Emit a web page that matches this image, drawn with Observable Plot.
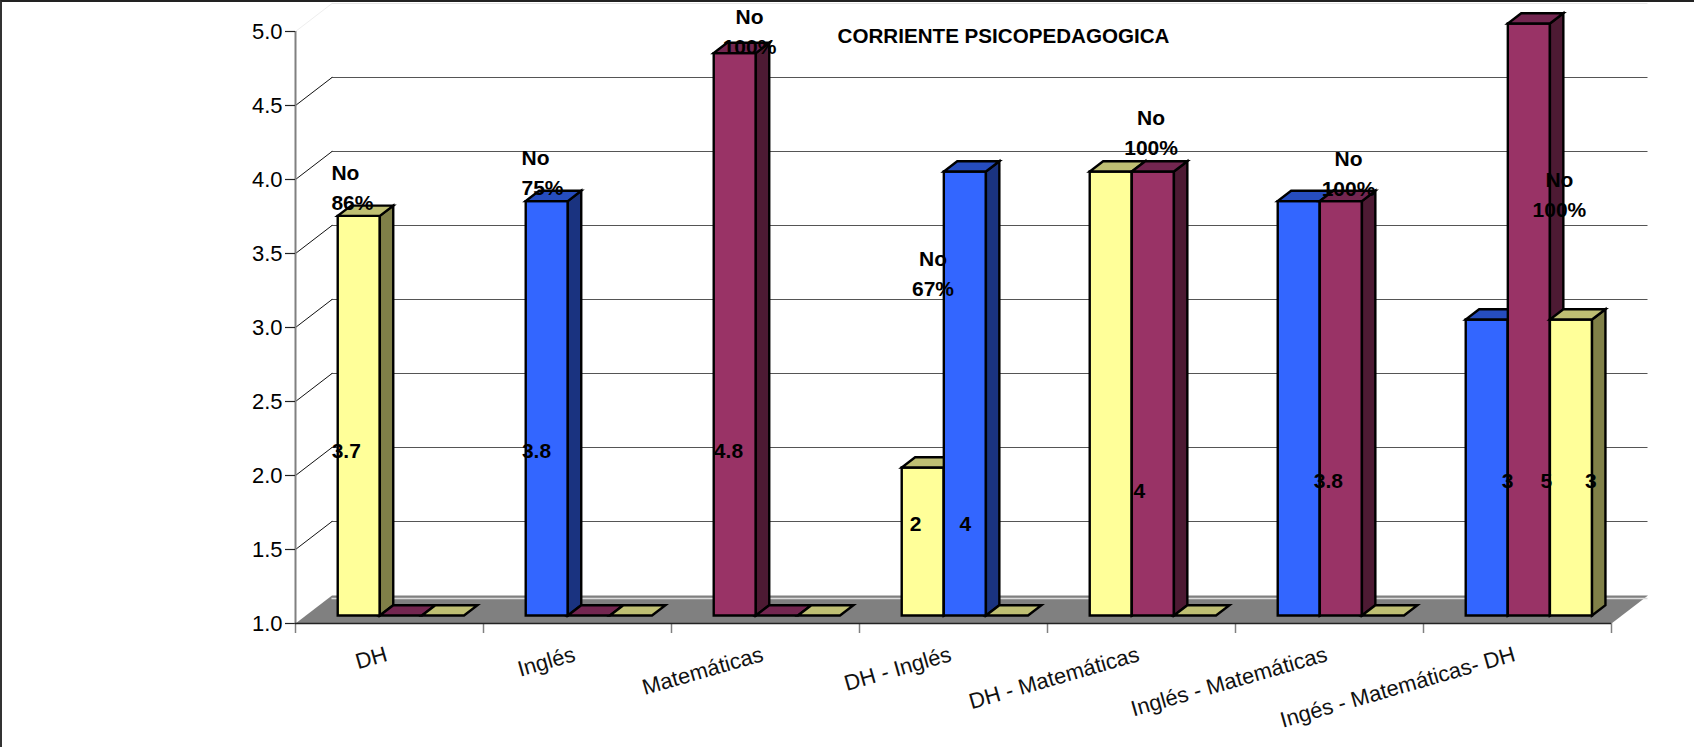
<!DOCTYPE html>
<html>
<head>
<meta charset="utf-8">
<script src="https://cdn.jsdelivr.net/npm/d3@7"></script>
<script src="https://cdn.jsdelivr.net/npm/@observablehq/plot@0.6"></script>
<style>
html,body{margin:0;padding:0;background:#fff;overflow:hidden}
#chart{position:relative;width:1694px;height:747px}
#edge{position:absolute;left:0;top:0;width:1694px;height:747px;box-sizing:border-box;border-top:2px solid #222;border-left:2px solid #333;pointer-events:none}
svg{display:block}
</style>
</head>
<body>
<div id="chart"><div id="edge"></div></div>
<script>
const categories = ["DH","Inglés","Matemáticas","DH - Inglés","DH - Matemáticas","Inglés - Matemáticas","Ingés - Matemáticas- DH"];
const slot1Values = [3.7,3.8,4.8,2,4,3.8,3];
const slot1Series = ["yellow","blue","purple","yellow","yellow","blue","blue"];
const slot2Values = [1,1,1,4,4,3.8,5];
const slot2Series = ["purple","purple","purple","blue","purple","purple","purple"];
const slot3Values = [1,1,1,1,1,1,3];
const slot3Series = ["yellow","yellow","yellow","yellow","yellow","yellow","yellow"];
const yTicks = [1,1.5,2,2.5,3,3.5,4,4.5,5];
const palette = {
  yellow:{front:"#FFFF99",side:"#808048",top:"#BFBF73"},
  blue:{front:"#3366FF",side:"#1A3380",top:"#264DBF"},
  purple:{front:"#993366",side:"#4D1A33",top:"#732650"}
};
// "No" labels: text, position in chart units (category, value)
const noLabels = [
  {t:"No\n86%",x:0.191,y:3.957,a:"start"},
  {t:"No\n75%",x:1.202,y:4.061,a:"start"},
  {t:"No\n100%",x:2.415,y:5.011,a:"middle"},
  {t:"No\n67%",x:3.391,y:3.376,a:"middle"},
  {t:"No\n100%",x:4.551,y:4.332,a:"middle"},
  {t:"No\n100%",x:5.601,y:4.058,a:"middle"},
  {t:"No\n100%",x:6.723,y:3.913,a:"middle"}
];
// Value labels
const valueLabels = [
  {t:"3.7",x:0.270,y:2.165},{t:"3.8",x:1.282,y:2.165},{t:"4.8",x:2.303,y:2.165},
  {t:"2",x:3.298,y:1.669},{t:"4",x:3.563,y:1.669},{t:"4",x:4.489,y:1.895},
  {t:"3.8",x:5.494,y:1.96},{t:"3",x:6.447,y:1.96},{t:"5",x:6.654,y:1.96},{t:"3",x:6.89,y:1.96}
];

const W=1694,H=747;
const mL=295,mR=83,mT=31,mB=124;
const uX=(W-mL-mR)/7, uY=(H-mT-mB)/4;
// oblique depth vector expressed in chart units (depth 1 = back wall)
const depthX=36.5/uX, depthY=28/uY;
const P=(x,y,d)=>({x:x+d*depthX,y:y+d*depthY});
const d0=8/28, d1=d0+10.3/28;
const slotW=42.1/uX, pad=(1-3*slotW)/2+0.005;

const polys=[];let pid=0;
function poly(pts,fill){const id=pid++;pts.forEach(p=>polys.push({x:p.x,y:p.y,id,fill}));}
function bar(g,s,v,col){
  const x0=g+pad+s*slotW,x1=x0+slotW,c=palette[col];
  if(v>1){
    poly([P(x0,1,d0),P(x1,1,d0),P(x1,v,d0),P(x0,v,d0)],c.front);
    poly([P(x1,1,d0),P(x1,1,d1),P(x1,v,d1),P(x1,v,d0)],c.side);
  }
  poly([P(x0,v,d0),P(x1,v,d0),P(x1,v,d1),P(x0,v,d1)],c.top);
}
categories.forEach((_,g)=>{
  bar(g,0,slot1Values[g],slot1Series[g]);
  bar(g,1,slot2Values[g],slot2Series[g]);
  bar(g,2,slot3Values[g],slot3Series[g]);
});
const floor=[P(0,1,0),P(7,1,0),P(7,1,1),P(0,1,1)];
const gridT=yTicks.slice(1);
const diag=gridT.flatMap(v=>[{...P(0,v,0),v},{...P(0,v,1),v}]);
const lblFont="Liberation Sans, Arial, sans-serif";
const plot=Plot.plot({
  width:W,height:H,marginLeft:mL,marginRight:mR,marginTop:mT,marginBottom:mB,
  x:{domain:[0,7]},y:{domain:[1,5]},color:{type:"identity"},
  style:{fontFamily:lblFont,background:"#fff",overflow:"visible",color:"#000"},
  marks:[
    Plot.ruleY(gridT.filter(v=>v<5),{x1:P(0,0,1).x,x2:P(7,0,1).x,y:v=>P(0,v,1).y,stroke:"#555",strokeWidth:1.2}),
    Plot.ruleY([5],{x1:P(0,0,1).x,x2:P(7,0,1).x,y:v=>P(0,v,1).y,stroke:"#e6e6e6",strokeWidth:1}),
    Plot.line(diag.filter(d=>d.v<5),{x:"x",y:"y",z:"v",stroke:"#111",strokeWidth:1}),
    Plot.line(diag.filter(d=>d.v==5),{x:"x",y:"y",z:"v",stroke:"#eee",strokeWidth:1}),
    Plot.line(floor,{x:"x",y:"y",fill:"#808080",stroke:"none",curve:"linear-closed"}),
    Plot.ruleY([1],{x1:P(0,0,1).x,x2:P(7,0,1).x,y:v=>P(0,v,1).y-0.02,stroke:"#dcdcdc",strokeWidth:1.5}),
    Plot.ruleX([0],{y1:1,y2:5,stroke:"#808080",strokeWidth:2}),
    Plot.axisY({ticks:yTicks,tickFormat:d3.format(".1f"),tickSize:10,tickPadding:3,fontSize:22,label:null,stroke:"#222",strokeWidth:1.2,marker:null}),
    Plot.axisX({ticks:d3.range(0,8),tickFormat:()=>"",tickSize:10,label:null,stroke:"#808080",strokeWidth:1.5}),
    Plot.ruleY([1],{x1:0,x2:7,stroke:"#222",strokeWidth:1.5}),
    Plot.line(polys,{x:"x",y:"y",z:"id",fill:"fill",stroke:"#000",strokeWidth:2.4,curve:"linear-closed",strokeLinejoin:"miter",strokeMiterlimit:10}),
    Plot.text(categories,{x:(d,i)=>i+0.485,y:0.795,text:d=>d,textAnchor:"end",rotate:-16,fontSize:22,fill:"#111"}),
    Plot.text(noLabels.filter(d=>d.a=="start"),{x:"x",y:"y",text:"t",textAnchor:"start",fontSize:21,fontWeight:"bold",lineHeight:1.43,fill:"#000"}),
    Plot.text(noLabels.filter(d=>d.a=="middle"),{x:"x",y:"y",text:"t",textAnchor:"middle",fontSize:21,fontWeight:"bold",lineHeight:1.43,fill:"#000"}),
    Plot.text(valueLabels,{x:"x",y:"y",text:"t",textAnchor:"middle",fontSize:21,fontWeight:"bold",fill:"#000"}),
    Plot.text(["CORRIENTE PSICOPEDAGOGICA"],{x:3.766,y:4.97,text:d=>d,fontSize:20.6,fontWeight:"bold",fill:"#000"})
  ]
});
document.getElementById("chart").insertBefore(plot,document.getElementById("edge"));
</script>
</body>
</html>
